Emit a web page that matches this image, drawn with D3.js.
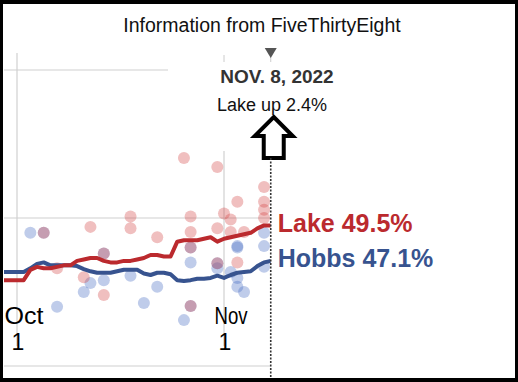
<!DOCTYPE html>
<html>
<head>
<meta charset="utf-8">
<script src="https://cdn.jsdelivr.net/npm/d3@7"></script>
<style>
  body { margin: 0; background: #000; }
  text { font-family: "Liberation Sans", Arial, sans-serif; }
</style>
</head>
<body>
<div id="chart"></div>
<script>
// Lake vs Hobbs polling average, Sep 29 - Nov 8 2022

const dayLabels = [
    "2022-09-29", "2022-09-30", "2022-10-01", "2022-10-02", "2022-10-03", "2022-10-04",
    "2022-10-05", "2022-10-06", "2022-10-07", "2022-10-08", "2022-10-09", "2022-10-10",
    "2022-10-11", "2022-10-12", "2022-10-13", "2022-10-14", "2022-10-15", "2022-10-16",
    "2022-10-17", "2022-10-18", "2022-10-19", "2022-10-20", "2022-10-21", "2022-10-22",
    "2022-10-23", "2022-10-24", "2022-10-25", "2022-10-26", "2022-10-27", "2022-10-28",
    "2022-10-29", "2022-10-30", "2022-10-31", "2022-11-01", "2022-11-02", "2022-11-03",
    "2022-11-04", "2022-11-05", "2022-11-06", "2022-11-07", "2022-11-08"
];

const lakeAverage = [
    45.8, 45.8, 45.8, 45.8, 46.5, 46.7, 46.6, 46.6, 46.7, 46.8, 46.8, 47.1,
    47.2, 47.3, 47.3, 47.1, 47.0, 47.0, 47.1, 47.1, 47.2, 47.3, 47.5, 47.5,
    47.4, 47.4, 48.4, 48.5, 48.5, 48.5, 48.6, 48.7, 48.4, 48.6, 48.7, 48.8,
    48.9, 49.0, 49.3, 49.5, 49.5
];

const hobbsAverage = [
    46.35, 46.35, 46.35, 46.35, 46.6, 46.9, 47.0, 46.8, 46.8, 46.8, 46.8, 46.75,
    46.55, 46.4, 46.3, 46.3, 46.3, 46.4, 46.5, 46.5, 46.5, 46.25, 46.15, 46.3,
    46.3, 46.2, 45.8, 45.75, 45.8, 45.9, 45.9, 45.95, 46.1, 45.95, 46.15, 46.3,
    46.35, 46.4, 46.75, 47.0, 47.1
];

const lakePollDates = [
    "2022-10-05", "2022-10-12", "2022-10-18", "2022-10-18", "2022-10-14", "2022-10-07",
    "2022-10-11", "2022-10-14", "2022-10-22", "2022-10-26", "2022-10-31", "2022-11-07",
    "2022-11-03", "2022-11-07", "2022-10-27", "2022-11-01", "2022-11-02", "2022-11-07",
    "2022-10-31", "2022-10-27", "2022-11-02", "2022-11-04", "2022-10-27", "2022-10-31",
    "2022-11-03", "2022-10-27", "2022-11-07"
];
const lakePollValues = [
    49.0, 49.4, 50.1, 49.3, 47.6, 46.6,
    46.0, 44.8, 48.7, 54.05, 53.45, 52.1,
    51.1, 51.1, 50.1, 50.3, 49.9, 50.0,
    49.3, 49.05, 49.05, 49.05, 48.0, 46.95,
    47.0, 44.05, 50.55
];

const hobbsPollDates = [
    "2022-10-03", "2022-10-05", "2022-10-14", "2022-10-12", "2022-10-14", "2022-10-11",
    "2022-10-07", "2022-10-18", "2022-10-22", "2022-10-20", "2022-10-27", "2022-10-27",
    "2022-10-27", "2022-11-03", "2022-11-03", "2022-11-07", "2022-11-07", "2022-10-31",
    "2022-11-02", "2022-11-03", "2022-11-03", "2022-11-04", "2022-11-07", "2022-10-26",
    "2022-10-31"
];
const hobbsPollValues = [
    49.0, 49.0, 47.6, 45.6, 45.8, 45.0,
    44.0, 46.1, 45.35, 44.25, 44.05, 48.0,
    47.0, 48.0, 48.1, 48.1, 49.0, 46.95,
    46.35, 45.95, 45.35, 45.0, 46.7, 43.1,
    46.6
];

const gridValues = [40, 50, 60];
const monthTicks = ["2022-10-01", "2022-11-01"];
const monthNames = ["Oct", "Nov"];
const markerDate = "2022-11-08";

const ColorLake = "#bb2a2e";
const ColorHobbs = "#37538f";

const parseDate = d3.timeParse("%Y-%m-%d");

function drawChart() {
    const width = 518;
    const height = 382;

    const x = d3.scaleTime()
        .domain([parseDate("2022-10-01"), parseDate("2022-11-01")])
        .range([17, 224]);

    const y = d3.scaleLinear()
        .domain([40, 60])
        .range([366, 70]);

    const markerX = x(parseDate(markerDate));

    const svg = d3.select("#chart").append("svg")
        .attr("width", width)
        .attr("height", height);

    // black frame
    svg.append("rect").attr("width", width).attr("height", height).attr("fill", "#000");
    svg.append("rect")
        .attr("x", 3).attr("y", 4)
        .attr("width", 512).attr("height", 374)
        .attr("fill", "#fff");

    svg.append("text")
        .attr("x", 262).attr("y", 32)
        .attr("text-anchor", "middle")
        .attr("font-size", 19.5)
        .attr("fill", "#111")
        .text("Information from FiveThirtyEight");

    svg.append("clipPath").attr("id", "plot-clip")
        .append("rect")
        .attr("x", 4).attr("y", 40)
        .attr("width", markerX - 4).attr("height", 338);

    const plot = svg.append("g").attr("clip-path", "url(#plot-clip)");

    // grid
    plot.selectAll(".hgrid")
        .data(gridValues).enter()
        .append("line")
            .attr("class", "hgrid")
            .attr("x1", 4).attr("x2", markerX)
            .attr("y1", d => y(d)).attr("y2", d => y(d))
            .attr("stroke", "#d0d0d0")
            .attr("stroke-width", 1.2);

    plot.selectAll(".vgrid")
        .data(monthTicks).enter()
        .append("line")
            .attr("class", "vgrid")
            .attr("x1", d => x(parseDate(d))).attr("x2", d => x(parseDate(d)))
            .attr("y1", y(60) - 17).attr("y2", 346)
            .attr("stroke", "#d0d0d0")
            .attr("stroke-width", 1.2);

    // polls
    const hobbsPolls = hobbsPollDates.map((d, i) => ({ date: parseDate(d), value: hobbsPollValues[i] }));
    const lakePolls = lakePollDates.map((d, i) => ({ date: parseDate(d), value: lakePollValues[i] }));

    plot.selectAll(".hobbs-poll")
        .data(hobbsPolls).enter()
        .append("circle")
            .attr("class", "hobbs-poll")
            .attr("cx", d => x(d.date))
            .attr("cy", d => y(d.value))
            .attr("r", 6)
            .attr("fill", "rgb(60,100,190)")
            .attr("fill-opacity", 0.33);

    plot.selectAll(".lake-poll")
        .data(lakePolls).enter()
        .append("circle")
            .attr("class", "lake-poll")
            .attr("cx", d => x(d.date))
            .attr("cy", d => y(d.value))
            .attr("r", 6)
            .attr("fill", "rgb(210,60,60)")
            .attr("fill-opacity", 0.33);

    // averages
    const line = d3.line()
        .x((d, i) => x(parseDate(dayLabels[i])))
        .y(d => y(d));

    plot.append("path")
        .datum(hobbsAverage)
        .attr("d", line)
        .attr("fill", "none")
        .attr("stroke", ColorHobbs)
        .attr("stroke-width", 4)
        .attr("stroke-linejoin", "round");

    plot.append("path")
        .datum(lakeAverage)
        .attr("d", line)
        .attr("fill", "none")
        .attr("stroke", ColorLake)
        .attr("stroke-width", 4)
        .attr("stroke-linejoin", "round");

    // month labels
    monthTicks.forEach((d, i) => {
        const tx = x(parseDate(d));
        svg.append("text")
            .attr("x", tx + 7).attr("y", 324)
            .attr("text-anchor", "middle")
            .attr("font-size", 24)
            .attr("textLength", i === 0 ? 39 : 33)
            .attr("lengthAdjust", "spacingAndGlyphs")
            .attr("fill", "#000")
            .text(monthNames[i]);
        svg.append("text")
            .attr("x", tx + 1).attr("y", 350)
            .attr("text-anchor", "middle")
            .attr("font-size", 23)
            .attr("fill", "#000")
            .text("1");
    });

    // tooltip box
    svg.append("rect")
        .attr("x", 168).attr("y", 41)
        .attr("width", 216).attr("height", 110)
        .attr("rx", 6)
        .attr("fill", "#fff");

    svg.selectAll(".top-tick")
        .data([monthTicks[1], markerDate]).enter()
        .append("line")
            .attr("x1", d => x(parseDate(d))).attr("x2", d => x(parseDate(d)))
            .attr("y1", 55).attr("y2", 62)
            .attr("stroke", "#ccc")
            .attr("stroke-width", 1);

    svg.append("path")
        .attr("d", `M${markerX - 6},48 L${markerX + 6},48 L${markerX},58 Z`)
        .attr("fill", "#555");

    svg.append("text")
        .attr("x", 277).attr("y", 83)
        .attr("text-anchor", "middle")
        .attr("font-size", 19)
        .attr("font-weight", "bold")
        .attr("fill", "#333")
        .text("NOV. 8, 2022");

    svg.append("text")
        .attr("x", 272).attr("y", 111)
        .attr("text-anchor", "middle")
        .attr("font-size", 18)
        .attr("fill", "#111")
        .text("Lake up 2.4%");

    // arrow pointing at the lead
    const ax = markerX + 3;
    svg.append("path")
        .attr("d", `M${ax},117 L${ax + 19},136 L${ax + 10},136 L${ax + 10},158 L${ax - 10},158 L${ax - 10},136 L${ax - 19},136 Z`)
        .attr("fill", "#fff")
        .attr("stroke", "#000")
        .attr("stroke-width", 4)
        .attr("stroke-linejoin", "miter");

    // marker line
    svg.append("line")
        .attr("x1", markerX).attr("x2", markerX)
        .attr("y1", 158).attr("y2", 378)
        .attr("stroke", "#333")
        .attr("stroke-width", 1.6)
        .attr("stroke-dasharray", "2,1.5");

    // end labels
    svg.append("text")
        .attr("x", markerX + 7).attr("y", y(49.5) + 7)
        .attr("font-size", 25)
        .attr("font-weight", "bold")
        .attr("fill", ColorLake)
        .text("Lake 49.5%");

    svg.append("text")
        .attr("x", markerX + 7).attr("y", y(47.1) + 6)
        .attr("font-size", 25)
        .attr("font-weight", "bold")
        .attr("fill", ColorHobbs)
        .text("Hobbs 47.1%");
}

drawChart();
</script>
</body>
</html>
